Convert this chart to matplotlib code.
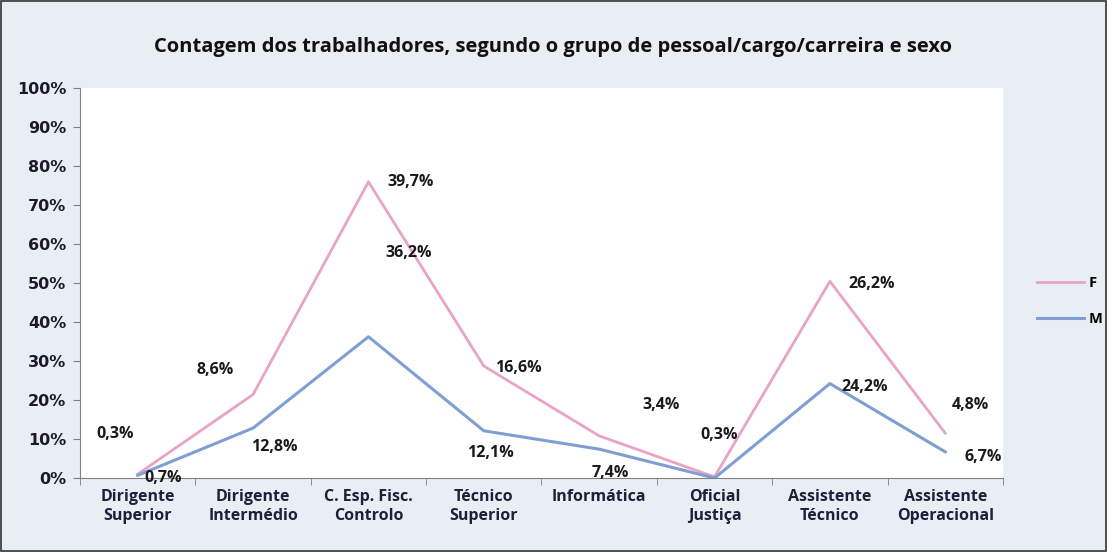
import matplotlib.pyplot as plt
from matplotlib.ticker import FuncFormatter
from matplotlib.patches import Rectangle

# dados (percentagens)
categorias = ["Dirigente\nSuperior", "Dirigente\nIntermédio", "C. Esp. Fisc.\nControlo",
              "Técnico\nSuperior", "Informática", "Oficial\nJustiça",
              "Assistente\nTécnico", "Assistente\nOperacional"]
mulheres = [0.3, 8.6, 39.7, 16.6, 3.4, 0.3, 26.2, 4.8]
homens = [0.7, 12.8, 36.2, 12.1, 7.4, 0.0, 24.2, 6.7]

# linhas empilhadas: F por cima de M
acumulado_f = [h + m for h, m in zip(homens, mulheres)]

# deslocamento das etiquetas (pixels)
desloc_f = [(-23, 40), (-38, 25), (42, 0), (35, -2), (62, 31), (5, 42), (42, -3), (25, 28)]
desloc_m = [(25, -3), (21, -19), (40, 84), (7, -22), (11, -24), None, (35, -3), (38, -5)]

cor_f = "#eaa3c4"
cor_m = "#7f9fd3"
fonte = "Open Sans"

fig = plt.figure(figsize=(11.07, 5.52), dpi=100, facecolor="#e9eef5")
ax = fig.add_axes([0.0723, 0.134, 0.8337, 0.707])
ax.set_facecolor("white")

x = list(range(len(categorias)))
ax.plot(x, acumulado_f, color=cor_f, lw=2, label="F")
ax.plot(x, homens, color=cor_m, lw=2.2, label="M")

def pct(v):
    return f"{v:.1f}%".replace(".", ",")

for i in x:
    dx, dy = desloc_f[i]
    ax.annotate(pct(mulheres[i]), (i, acumulado_f[i]), xytext=(dx, dy),
                textcoords="offset pixels", ha="center", va="center",
                fontsize=11.5, fontweight="bold", family=fonte, color="#1a1a1a")
    if desloc_m[i] is not None:
        dx, dy = desloc_m[i]
        ax.annotate(pct(homens[i]), (i, homens[i]), xytext=(dx, dy),
                    textcoords="offset pixels", ha="center", va="center",
                    fontsize=11.5, fontweight="bold", family=fonte, color="#1a1a1a")

ax.set_xlim(-0.5, len(categorias) - 0.5)
ax.set_ylim(0, 100)
ax.set_yticks(range(0, 101, 10))
ax.yaxis.set_major_formatter(FuncFormatter(lambda v, p: f"{v:.0f}%"))
ax.set_xticks(x)
ax.set_xticklabels(categorias)
ax.set_xticks([i - 0.5 for i in range(len(categorias) + 1)], minor=True)
ax.tick_params(axis="x", which="major", length=0, pad=8)
ax.tick_params(axis="x", which="minor", length=5, color="#808080")
ax.tick_params(axis="y", length=5, color="#808080", pad=5)
for lab in ax.get_xticklabels():
    lab.set_fontweight("bold")
    lab.set_family(fonte)
    lab.set_fontsize(11.5)
    lab.set_color("#1f1f3a")
for lab in ax.get_yticklabels():
    lab.set_fontweight("bold")
    lab.set_family("DejaVu Sans")
    lab.set_fontsize(11.5)
    lab.set_color("#1a1a2a")

for s in ["top", "right"]:
    ax.spines[s].set_visible(False)
for s in ["left", "bottom"]:
    ax.spines[s].set_color("#808080")

fig.text(0.5, 0.915, "Contagem dos trabalhadores, segundo o grupo de pessoal/cargo/carreira e sexo",
         ha="center", va="center", fontsize=14.5, fontweight="bold", family=fonte, color="#111111")

fig.legend(loc="center left", bbox_to_anchor=(0.925, 0.455), frameon=False,
           prop={"family": fonte, "weight": "bold", "size": 10.5},
           handlelength=3.2, labelspacing=1.5, handletextpad=0.3)

fig.patches.append(Rectangle((0.001, 0.002), 0.998, 0.996, transform=fig.transFigure,
                             fill=False, edgecolor="#333333", lw=1.2))

fig.savefig("out.png", dpi=100, facecolor=fig.get_facecolor())
